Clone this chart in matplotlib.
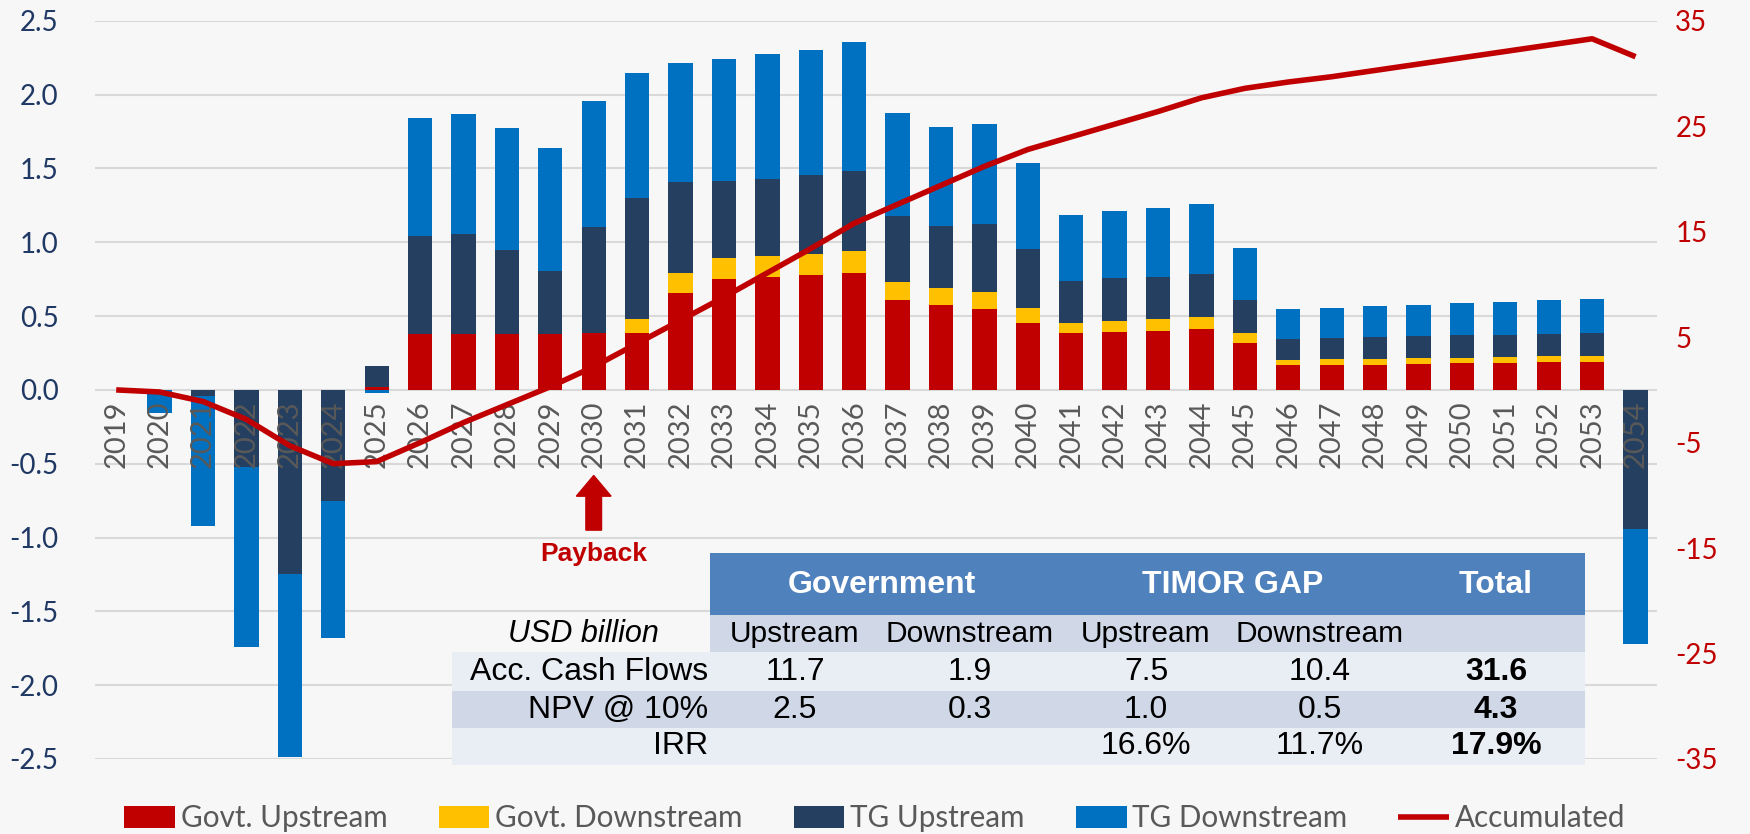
import numpy as np
import matplotlib
matplotlib.use('Agg')
import matplotlib.pyplot as plt
from matplotlib.patches import Rectangle

plt.rcParams['axes.unicode_minus'] = False

# categorias y series (USD billion)
years = list(range(2019, 2055))

govt_up = [0, 0, 0, 0, 0, 0, 0.02, 0.38, 0.38, 0.38, 0.38, 0.385, 0.385, 0.655,
           0.753, 0.764, 0.776, 0.794, 0.612, 0.576, 0.549, 0.454, 0.383, 0.390,
           0.401, 0.415, 0.320, 0.166, 0.170, 0.172, 0.177, 0.179, 0.179, 0.186,
           0.186, 0]
govt_down = [0, 0, 0, 0, 0, 0, 0, 0, 0, 0, 0, 0, 0.096, 0.136, 0.143, 0.143,
             0.145, 0.149, 0.120, 0.113, 0.115, 0.102, 0.073, 0.079, 0.080, 0.082,
             0.063, 0.036, 0.036, 0.039, 0.036, 0.036, 0.041, 0.041, 0.041, 0]
tg_up = [0, 0, -0.043, -0.525, -1.25, -0.75, 0.14, 0.664, 0.678, 0.569, 0.426,
         0.719, 0.821, 0.617, 0.517, 0.524, 0.533, 0.542, 0.445, 0.422, 0.458,
         0.401, 0.285, 0.286, 0.285, 0.290, 0.227, 0.143, 0.145, 0.147, 0.150,
         0.155, 0.152, 0.154, 0.158, -0.94]
tg_down = [0, -0.155, -0.88, -1.215, -1.24, -0.93, -0.02, 0.800, 0.811, 0.828,
           0.832, 0.851, 0.845, 0.807, 0.827, 0.843, 0.850, 0.873, 0.698, 0.669,
           0.678, 0.580, 0.445, 0.454, 0.465, 0.474, 0.354, 0.204, 0.207, 0.213,
           0.215, 0.217, 0.224, 0.229, 0.232, -0.78]
accumulated = [0.0, -0.2, -1.1, -2.8, -5.3, -7.0, -6.8, -5.0, -3.1, -1.4, 0.3,
               2.2, 4.4, 6.6, 8.8, 11.1, 13.4, 15.8, 17.6, 19.4, 21.2, 22.8,
               24.0, 25.2, 26.4, 27.7, 28.6, 29.2, 29.7, 30.3, 30.9, 31.5, 32.1,
               32.7, 33.3, 31.6]

# tabla
table_groups = ['Government', 'TIMOR GAP', 'Total']
table_sub = ['Upstream', 'Downstream', 'Upstream', 'Downstream', '']
table_rows = ['Acc. Cash Flows', 'NPV @ 10%', 'IRR']
table_vals = [['11.7', '1.9', '7.5', '10.4', '31.6'],
              ['2.5', '0.3', '1.0', '0.5', '4.3'],
              ['', '', '16.6%', '11.7%', '17.9%']]

RED, YEL, NAVY, BLUE = '#C00000', '#FFC000', '#243F60', '#0070C0'
BG = '#F7F7F7'

fig = plt.figure(figsize=(17.5, 8.34), dpi=100, facecolor=BG)
ax = fig.add_axes([0.054, 0.090, 0.893, 0.885])
ax.set_facecolor('none')

x = np.arange(len(years))
pos_base = np.zeros(len(years))
neg_base = np.zeros(len(years))
series = [(govt_up, RED, 'Govt. Upstream'), (govt_down, YEL, 'Govt. Downstream'),
          (tg_up, NAVY, 'TG Upstream'), (tg_down, BLUE, 'TG Downstream')]
handles = []
for vals, col, lab in series:
    v = np.array(vals)
    bottom = np.where(v >= 0, pos_base, neg_base)
    h = ax.bar(x, v, width=0.56, bottom=bottom, color=col, label=lab, zorder=2)
    handles.append(h)
    pos_base += np.clip(v, 0, None)
    neg_base += np.clip(v, None, 0)

ax.set_xlim(-0.5, len(years) - 0.5)
ax.set_ylim(-2.5, 2.5)
ax.set_yticks(np.arange(-2.5, 2.51, 0.5))
ax.set_yticklabels([f'{t:.1f}' for t in np.arange(-2.5, 2.51, 0.5)])
ax.set_xticks([])
ax.grid(axis='y', color='#D9D9D9', lw=1.5)
ax.set_axisbelow(True)
ax.tick_params(axis='y', length=0, pad=26, labelsize=20, labelcolor='#1F3864')
for lbl in ax.get_yticklabels():
    lbl.set_family('Lato')
for s in ax.spines.values():
    s.set_visible(False)

for i, yr in enumerate(years):
    ax.text(i, -0.07, str(yr), rotation=90, ha='center', va='top', fontsize=21,
            color='#595959', family='Lato', zorder=3)

# payback
ax.arrow(11, -0.95, 0, 0.37, width=0.36, head_width=0.8, head_length=0.14,
         length_includes_head=True, color=RED, zorder=3)
ax.text(11, -1.11, 'Payback', ha='center', va='center', color=RED,
        fontweight='bold', fontsize=19, family='Liberation Sans')

ax2 = ax.twinx()
ax2.set_ylim(-35, 35)
ax2.set_yticks(np.arange(-35, 36, 10))
ax2.tick_params(axis='y', length=0, pad=13, labelsize=20, labelcolor=RED)
for lbl in ax2.get_yticklabels():
    lbl.set_family('Lato')
for s in ax2.spines.values():
    s.set_visible(False)
line, = ax2.plot(x, accumulated, color=RED, lw=4, label='Accumulated',
                 solid_capstyle='butt', zorder=4)
handles.append(line)

fig.legend(handles=handles, loc='center', bbox_to_anchor=(0.5, 0.019), ncol=5,
           frameon=False, handlelength=1.72, handleheight=0.75,
           columnspacing=1.72, handletextpad=0.2, labelcolor='#595959',
           prop={'family': 'Lato', 'size': 21.3})

# tabla en coordenadas de pixel
tab = fig.add_axes([0, 0, 1, 1], zorder=5)
tab.set_xlim(0, 1750)
tab.set_ylim(834, 0)
tab.axis('off')
tab.patch.set_visible(False)

tab.add_patch(Rectangle((710, 553), 875, 62, color='#4F81BD', lw=0))
tab.add_patch(Rectangle((710, 615), 875, 37, color='#D0D8E8', lw=0))
row_y = [652, 691, 728, 765]
row_cols = ['#E9EDF4', '#D0D8E8', '#E9EDF4']
for r in range(3):
    tab.add_patch(Rectangle((452, row_y[r]), 1133, row_y[r + 1] - row_y[r],
                            color=row_cols[r], lw=0))

col_x = [795, 970, 1146, 1320, 1496]
grp_x = [882, 1233, 1496]
tf = 'Liberation Sans'
for gx, g in zip(grp_x, table_groups):
    tab.text(gx, 585, g, ha='center', va='center', color='white',
             fontweight='bold', fontsize=23, family=tf)
for cx, s in zip(col_x, table_sub):
    tab.text(cx, 634, s, ha='center', va='center', fontsize=21.5, family=tf)
tab.text(583, 634, 'USD billion', ha='center', va='center', fontsize=22,
         style='italic', family=tf)
for r in range(3):
    yc = (row_y[r] + row_y[r + 1]) / 2
    tab.text(708, yc, table_rows[r], ha='right', va='center', fontsize=23,
             family=tf)
    for c, cx in enumerate(col_x):
        tab.text(cx, yc, table_vals[r][c], ha='center', va='center', fontsize=23,
                 family=tf, fontweight='bold' if c == 4 else 'normal')

fig.savefig('out.png', dpi=100, facecolor=BG)
